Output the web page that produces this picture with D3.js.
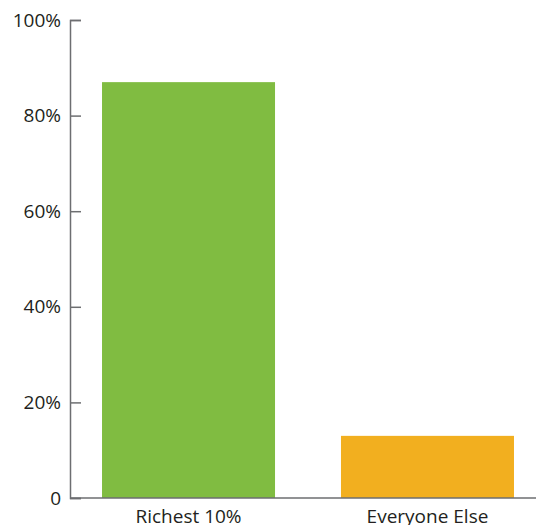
<!DOCTYPE html>
<html>
<head>
<meta charset="utf-8">
<script src="https://cdn.jsdelivr.net/npm/d3@7"></script>
<style>
  html, body { margin: 0; padding: 0; background: #fff; }
  svg { display: block; }
  text { font-family: "Open Sans", "DejaVu Sans", sans-serif; fill: #231f20; }
</style>
</head>
<body>
<svg id="chart" width="536" height="525"></svg>
<script>
// Share of wealth held by each group (percent)
const categories = ["Richest 10%", "Everyone Else"];
const shares = [87, 13];
const barColors = ["#80bc41", "#f2af1f"];
const tickValues = [0, 20, 40, 60, 80, 100];

const svg = d3.select("#chart");
const W = 536;
const axisX = 70, baseY = 498, topY = 20;

const x = d3.scaleBand()
  .domain(categories)
  .range([axisX, 546])
  .paddingInner(0.276)
  .paddingOuter(0.134);

const y = d3.scaleLinear()
  .domain([0, 100])
  .range([baseY, topY]);

// Bars
svg.append("g")
  .selectAll("rect")
  .data(categories)
  .join("rect")
  .attr("x", d => x(d))
  .attr("width", x.bandwidth())
  .attr("y", (d, i) => y(shares[i]))
  .attr("height", (d, i) => y(0) - y(shares[i]))
  .attr("fill", (d, i) => barColors[i]);

// Y axis with inward ticks
const yAxis = d3.axisLeft(y)
  .tickValues(tickValues)
  .tickSize(-11)
  .tickPadding(9)
  .tickFormat(d => d === 0 ? "0" : d + "%");

const gy = svg.append("g")
  .attr("transform", `translate(${axisX},0)`)
  .call(yAxis);
gy.select(".domain").attr("stroke", "#6d6e71").attr("stroke-width", 1.5);
gy.selectAll(".tick line").attr("stroke", "#6d6e71").attr("stroke-width", 1.5);
gy.selectAll(".tick text")
  .attr("font-size", 19)
  .attr("font-family", "'Open Sans', 'DejaVu Sans', sans-serif")
  .attr("fill", "#231f20");

// Baseline
svg.append("line")
  .attr("x1", axisX).attr("x2", W)
  .attr("y1", baseY).attr("y2", baseY)
  .attr("stroke", "#6d6e71").attr("stroke-width", 1.5);

// Category labels
svg.append("g")
  .selectAll("text")
  .data(categories)
  .join("text")
  .attr("x", d => x(d) + x.bandwidth() / 2)
  .attr("y", 523)
  .attr("text-anchor", "middle")
  .attr("font-size", 19)
  .text(d => d);
</script>
</body>
</html>
